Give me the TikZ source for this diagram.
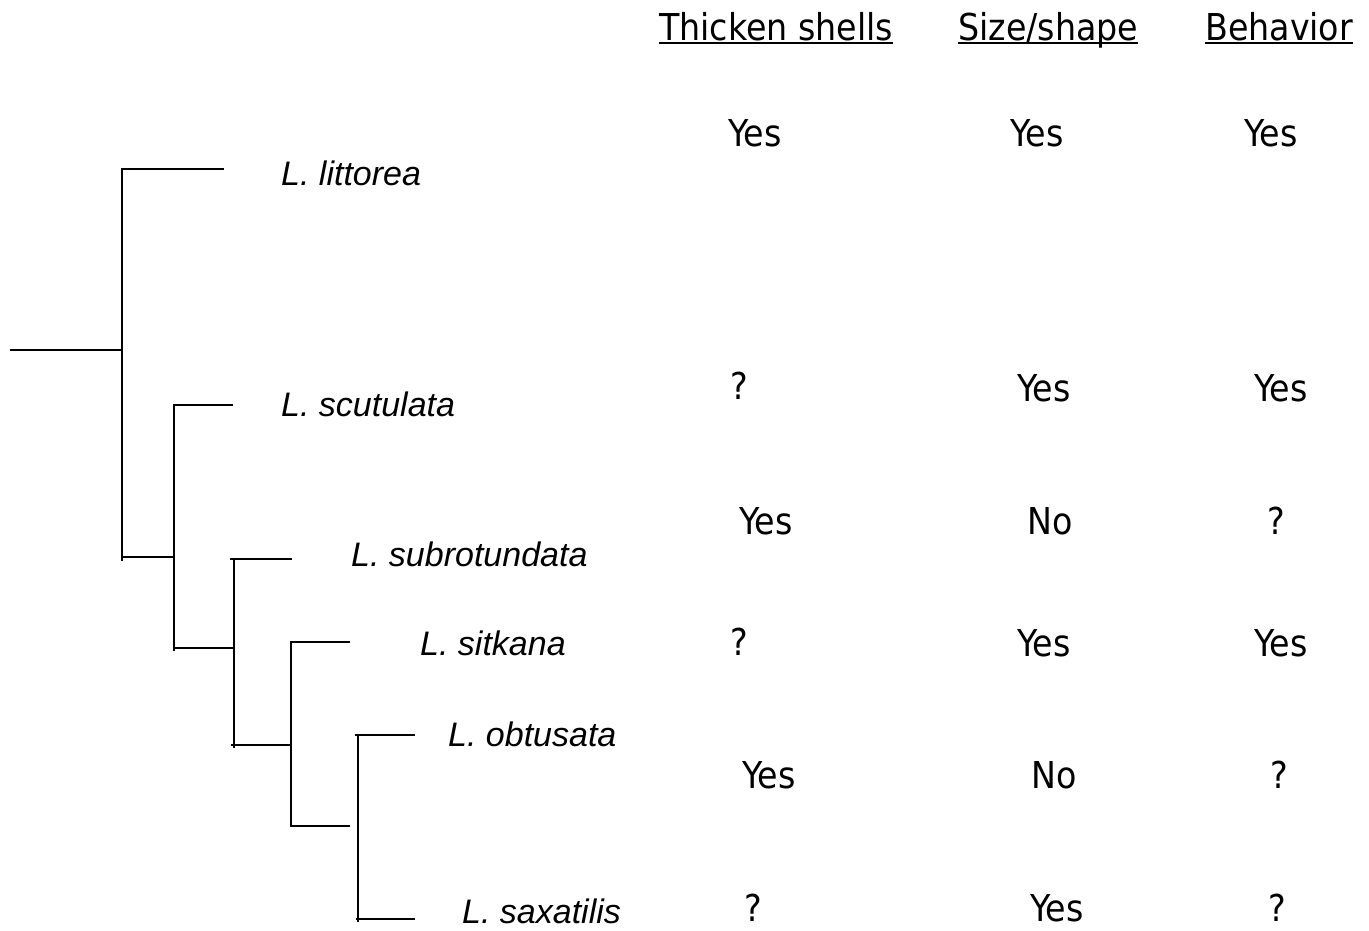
\documentclass[tikz,border=0pt]{standalone}
\usepackage{fontspec}
\newfontfamily\valfont{DejaVu Sans Condensed}
\newfontfamily\taxfont{Liberation Sans}
\begin{document}
\begin{tikzpicture}[x=1pt,y=-1pt,
  branch/.style={line width=1.5pt},
  header/.style={anchor=base west,inner sep=0pt,font=\valfont\fontsize{37}{42}\selectfont},
  val/.style={anchor=base west,inner sep=0pt,font=\valfont\fontsize{37}{42}\selectfont},
  taxon/.style={anchor=base west,inner sep=0pt,font=\taxfont\itshape\fontsize{34}{39}\selectfont}]
\useasboundingbox[fill=white] (0,0) rectangle (1369,930);

% column headers, underlined
\node[header] (h1) at (659,40) {Thicken shells};
\node[header] (h2) at (958,40) {Size/shape};
\node[header] (h3) at (1205,40) {Behavior};
\foreach \h in {h1,h2,h3}
  \draw[line width=1.6pt] ([yshift=-3]\h.base west) -- ([yshift=-3]\h.base east);

% taxa
\node[taxon] (t1) at (281,185) {L. littorea};
\node[taxon] (t2) at (281,416) {L. scutulata};
\node[taxon] (t3) at (351,566) {L. subrotundata};
\node[taxon] (t4) at (420,655) {L. sitkana};
\node[taxon] (t5) at (448,746) {L. obtusata};
\node[taxon] (t6) at (462,923) {L. saxatilis};

% character states
\node[val] (a1) at (728,146) {Yes};  \node[val] (b1) at (1010,146) {Yes}; \node[val] (c1) at (1244,146) {Yes};
\node[val] (a2) at (730,399) {?};    \node[val] (b2) at (1017,401) {Yes}; \node[val] (c2) at (1254,401) {Yes};
\node[val] (a3) at (739,534) {Yes};  \node[val] (b3) at (1027,534) {No};  \node[val] (c3) at (1267,534) {?};
\node[val] (a4) at (730,655) {?};    \node[val] (b4) at (1017,656) {Yes}; \node[val] (c4) at (1254,656) {Yes};
\node[val] (a5) at (742,788) {Yes};  \node[val] (b5) at (1031,788) {No};  \node[val] (c5) at (1270,788) {?};
\node[val] (a6) at (744,921) {?};    \node[val] (b6) at (1030,921) {Yes}; \node[val] (c6) at (1268,921) {?};

% tree junctions and branch tips
\coordinate (root) at (10,350);
\coordinate (n1) at (122,350);
\coordinate (n1t) at (122,169);  \coordinate (n1b) at (122,557);
\coordinate (e1) at (224,169);
\coordinate (n2t) at (174,405);  \coordinate (n2b) at (174,648);
\coordinate (e2) at (233,405);
\coordinate (n3t) at (234,559);  \coordinate (n3b) at (234,745);
\coordinate (e3) at (292,559);
\coordinate (n4t) at (291,642);  \coordinate (n4b) at (291,826);
\coordinate (e4) at (350,642);   \coordinate (e4b) at (350,826);
\coordinate (n5t) at (358,735);  \coordinate (n5b) at (358,919);
\coordinate (e5) at (415,735);   \coordinate (e6) at (415,919);

\draw[branch] (root) -- (n1);
\draw[branch] (e1) -- (n1t) -- ([yshift=-4]n1b);
\draw[branch] (n1b) -- (n1b -| n2t);
\draw[branch] (e2) -- (n2t) -- ([yshift=-3]n2b);
\draw[branch] (n2b) -- (n2b -| n3t);
\draw[branch] (e3) -- (n3t) -- ([yshift=-3]n3b);
\draw[branch] ([xshift=-4]n3t) -- (n3t);
\draw[branch] ([xshift=-3]n3b) -- (n3b -| n4t);
\draw[branch] (e4) -- (n4t) -- (n4b) -- (e4b);
\draw[branch] (e5) -- ([xshift=-3]n5t) ;
\draw[branch] (n5t) -- ([yshift=-3]n5b);
\draw[branch] ([xshift=-2]n5b) -- (e6);
\end{tikzpicture}
\end{document}
